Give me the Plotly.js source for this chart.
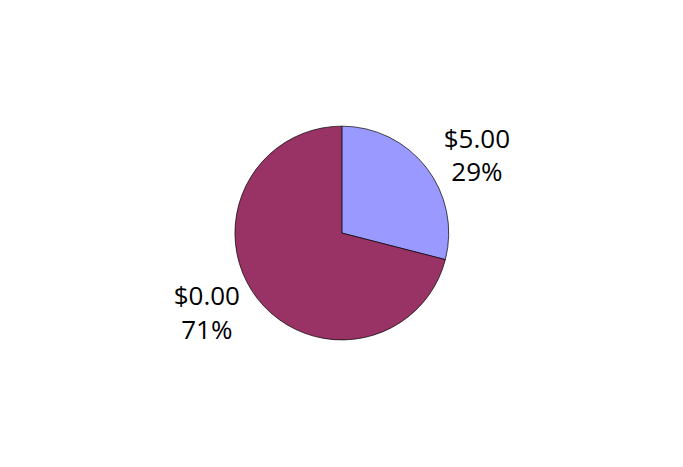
<!DOCTYPE html>
<html>
<head>
<meta charset="utf-8">
<script src="https://cdn.plot.ly/plotly-3.0.1.min.js"></script>
<style>
  html, body { margin: 0; padding: 0; background: #fff; }
  #chart { width: 683px; height: 467px; }
</style>
</head>
<body>
<div id="chart"></div>
<script>
// price buckets and their share
const labels = ['$5.00', '$0.00'];
const shares = [29, 71];
const colors = ['#9999FF', '#993366'];

const trace = {
  type: 'pie',
  labels: labels,
  values: shares,
  sort: false,
  direction: 'clockwise',
  rotation: 0,
  marker: { colors: colors, line: { color: '#000000', width: 0.7 } },
  textinfo: 'label+percent',
  textposition: 'outside',
  outsidetextfont: { family: 'Open Sans', size: 26, color: '#000' },
  domain: { x: [0.344, 0.657], y: [0.272, 0.730] },
  hoverinfo: 'none'
};

Plotly.newPlot('chart', [trace], {
  width: 683,
  height: 467,
  margin: { l: 0, r: 0, t: 0, b: 0 },
  showlegend: false,
  paper_bgcolor: '#fff',
  font: { family: 'Open Sans', size: 26, color: '#000' }
}, { displayModeBar: false, staticPlot: true });
</script>
</body>
</html>
